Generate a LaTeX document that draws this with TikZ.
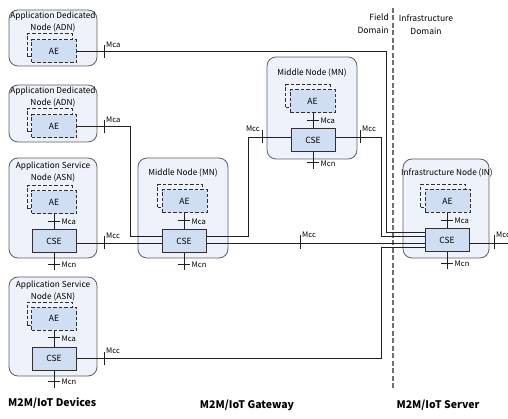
\documentclass[tikz,border=0pt]{standalone}
\usepackage{fontspec}
\setmainfont{Noto Sans CJK KR}
\definecolor{boxfill}{HTML}{EEF3FB}
\definecolor{boxgray}{HTML}{606060}
\definecolor{innerfill}{HTML}{D0DEF4}
\definecolor{dashgray}{HTML}{303030}
\definecolor{domgray}{HTML}{707070}
\definecolor{linecol}{HTML}{202020}
\tikzset{
  nodebox/.style={draw=boxgray, fill=boxfill, rounded corners=9pt, line width=0.8pt, inner sep=0pt},
  aeback/.style={draw=dashgray, dash pattern=on 3.5pt off 2pt, line width=1pt, minimum width=45pt, minimum height=23pt, inner sep=0pt},
  aefront/.style={aeback, fill=innerfill, font=\fontsize{8.5}{10}\selectfont},
  csebox/.style={draw=dashgray, fill=innerfill, line width=1pt, minimum width=44pt, minimum height=23pt, inner sep=0pt, font=\fontsize{8.5}{10}\selectfont},
  conn/.style={draw=linecol, line width=0.9pt},
  ttl/.style={font=\fontsize{8.3}{11.5}\selectfont, align=center, inner sep=0pt},
  lbl/.style={font=\fontsize{7.6}{9}\selectfont, inner sep=0pt},
  tickmark/.style={draw=linecol, line width=0.9pt},
  biglbl/.style={font=\fontsize{10.5}{12}\selectfont\bfseries, inner sep=0pt},
}
\begin{document}
\begin{tikzpicture}[x=1pt,y=-1pt]
\path[use as bounding box] (0,0) rectangle (508,419);
\clip (0,0) rectangle (508,419);
\fill[white] (0,0) rectangle (508,419);

% outer node boxes
\node[nodebox, minimum width=88pt, minimum height=56pt] (adn1) at (53,38) {};
\node[nodebox, minimum width=88pt, minimum height=57pt] (adn2) at (53,113.5) {};
\node[nodebox, minimum width=88pt, minimum height=100pt] (asn1) at (53,208) {};
\node[nodebox, minimum width=88pt, minimum height=99pt] (asn2) at (53,326.5) {};
\node[nodebox, minimum width=90pt, minimum height=100pt] (mn1) at (183,208) {};
\node[nodebox, minimum width=90pt, minimum height=102pt] (mn2) at (312,108) {};
\node[nodebox, minimum width=86pt, minimum height=99pt] (in) at (446,208.5) {};

% titles
\node[ttl] (tadn1) at (53,22) {Application Dedicated\\Node (ADN)};
\node[ttl] (tadn2) at (53,97) {Application Dedicated\\Node (ADN)};
\node[ttl] (tasn1) at (53,172) {Application Service\\Node (ASN)};
\node[ttl] (tasn2) at (53,291) {Application Service\\Node (ASN)};
\node[ttl] (tmn1) at (183,173) {Middle Node (MN)};
\node[ttl] (tmn2) at (312,73) {Middle Node (MN)};
\node[ttl] (tin) at (447,173) {Infrastructure Node (IN)};

% AE boxes
\node[aeback] (ae1b) at (49.5,45.5) {};
\node[aefront] (ae1) at (54,51.5) {AE};
\node[aeback] (ae2b) at (49.5,120.5) {};
\node[aefront] (ae2) at (54,126.5) {AE};
\node[aeback] (ae3b) at (49.5,197.5) {};
\node[aefront] (ae3) at (54,202.5) {AE};
\node[aeback] (ae4b) at (49.5,313.5) {};
\node[aefront] (ae4) at (54,318.5) {AE};
\node[aeback] (ae5b) at (180,196.5) {};
\node[aefront] (ae5) at (184.5,201.5) {AE};
\node[aeback] (ae6b) at (308,96.5) {};
\node[aefront] (ae6) at (312.5,101.5) {AE};
\node[aeback] (ae7b) at (443,196) {};
\node[aefront] (ae7) at (447.5,201) {AE};

% CSE boxes
\node[csebox] (cse1) at (54,241.5) {CSE};
\node[csebox] (cse2) at (54,358.5) {CSE};
\node[csebox] (cse3) at (184,241.5) {CSE};
\node[csebox] (cse4) at (313,140) {CSE};
\node[csebox] (cse5) at (447,240.5) {CSE};

% domain separator
\draw[domgray, line width=1.6pt, dash pattern=on 5pt off 2.5pt] (393,8) -- (393,389);
\node[ttl, align=right, anchor=east, font=\fontsize{8.5}{13}\selectfont] (fd) at (389,23.5) {Field\\Domain};
\node[ttl, font=\fontsize{8.5}{13}\selectfont] (idom) at (426,24.5) {Infrastructure\\Domain};

% Mca between AE and CSE, Mcn below CSE
\foreach \a/\c in {ae3/cse1, ae4/cse2, ae5/cse3, ae6/cse4, ae7/cse5}{
  \draw[conn] (\a.south -| \c.north) -- coordinate[pos=0.45] (m\c) (\c.north);
  \draw[tickmark] ([xshift=-6pt]m\c) -- ([xshift=6pt]m\c);
  \node[lbl, anchor=west] at ([xshift=7.5pt,yshift=-1pt]m\c) {Mca};
  \coordinate (n\c) at ([yshift=-17pt]\c.south);
  \draw[conn] (\c.south) -- coordinate[pos=0.62] (k\c) (n\c);
  \draw[tickmark] ([xshift=-6pt]k\c) -- ([xshift=6pt]k\c);
  \node[lbl, anchor=west] at ([xshift=7.5pt,yshift=-1pt]k\c) {Mcn};
}

% connectors
\draw[conn] (ae1.east) -| (386,232) -- ([yshift=8.5pt]cse5.west);
\draw[conn] (ae2.east) -| (130,236) -- ([yshift=5.5pt]cse3.west);
\draw[conn] ([yshift=-1.5pt]cse1.east) -- ([yshift=-1.5pt]cse3.west);
\draw[conn] ([yshift=5.5pt]cse3.east) -| (248,137) -- ([yshift=3pt]cse4.west);
\draw[conn] ([yshift=-1.5pt]cse3.east) -- ([yshift=-2.5pt]cse5.west);
\draw[conn] ([yshift=3pt]cse4.east) -| (381,236.5) -- ([yshift=4pt]cse5.west);
\draw[conn] (cse2.east) -| (381,247) -- ([yshift=-6.5pt]cse5.west);
\coordinate (rightedge) at (512,243);
\draw[conn] ([yshift=-2.5pt]cse5.east) -- (rightedge);

% ticks on horizontal connectors
\draw[tickmark] (104,45) -- (104,58);
\node[lbl, anchor=west] at (106,45) {Mca};
\draw[tickmark] (104,120) -- (104,133);
\node[lbl, anchor=west] at (106,120) {Mca};
\draw[tickmark] (104,236.5) -- (104,249.5);
\node[lbl, anchor=west] at (106,236) {Mcc};
\draw[tickmark] (104,352) -- (104,365);
\node[lbl, anchor=west] at (106,351) {Mcc};
\draw[tickmark] (262,130.5) -- (262,143.5);
\node[lbl, anchor=east] at (260,129) {Mcc};
\draw[tickmark] (360,130.5) -- (360,143.5);
\node[lbl, anchor=west] at (362,129) {Mcc};
\draw[tickmark] (300,235.5) -- (300,249.5);
\node[lbl, anchor=west] at (302,235) {Mcc};
\draw[tickmark] (494,235.5) -- (494,249.5);
\node[lbl, anchor=west] at (496,235) {Mcc};

% bottom labels
\node[biglbl, anchor=west] (ldev) at (8,403) {M2M/IoT Devices};
\node[biglbl] (lgw) at (247,405) {M2M/IoT Gateway};
\node[biglbl] (lsrv) at (438,405) {M2M/IoT Server};
\end{tikzpicture}
\end{document}
